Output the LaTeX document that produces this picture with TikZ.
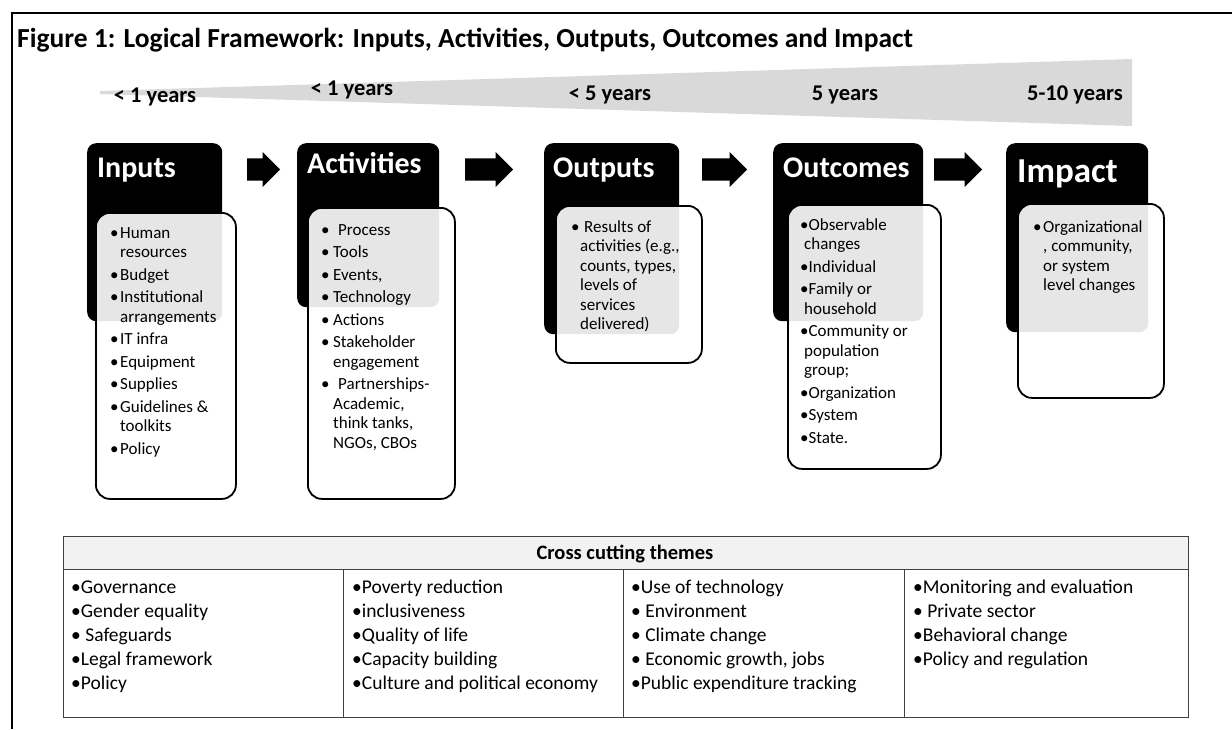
\documentclass[tikz,border=0pt]{standalone}
\usepackage{fontspec}
\setmainfont{Carlito}
\usetikzlibrary{shapes.arrows}

\newcommand{\bul}[1][10pt]{\makebox[#1][l]{\textbullet}}
\newcommand{\ind}[1][10pt]{\hspace*{#1}}
\newcommand{\blist}[1]{\begin{tabular}[t]{@{}l@{}}#1\end{tabular}}

\tikzset{
  head/.style={fill=black, rounded corners=9pt, anchor=north west, inner sep=0pt},
  body/.style={draw=black, line width=1.8pt, fill=white, fill opacity=0.9, rounded corners=14pt, anchor=north west, inner sep=0pt},
  headtxt/.style={text=white, font=\bfseries\fontsize{30}{36}\selectfont, anchor=base west, inner sep=0pt},
  itemtxt/.style={font=\fontsize{17}{19.5}\selectfont, anchor=base west, inner sep=0pt},
  celltxt/.style={font=\fontsize{19.5}{24}\selectfont, anchor=base west, inner sep=0pt},
  yrs/.style={font=\bfseries\fontsize{22.5}{27}\selectfont, anchor=base, inner sep=0pt},
  blk/.style={single arrow, fill=black, single arrow head extend=6.5pt, single arrow tip angle=90, inner xsep=0pt, inner ysep=11pt, minimum width=0pt, anchor=tail}
}

\begin{document}
\begin{tikzpicture}[x=1pt,y=-1pt]
\useasboundingbox (0,0) rectangle (1232,729);
% frame and title
\draw[line width=2pt] (12,729) -- (12,13) -- (1232,13);
\node[anchor=base west, inner sep=0pt, font=\bfseries\fontsize{27.5}{33}\selectfont] (fig) at (17,47) {Figure 1: Logical Framework: Inputs, Activities, Outputs, Outcomes and Impact};

% time wedge
\fill[gray!30] (100,91) -- (1132,59) -- (1132,126) -- (100,94) -- cycle;
\node[yrs] (yr1) at (155,102) {< 1 years};
\node[yrs] (yr2) at (352,95) {< 1 years};
\node[yrs] (yr3) at (610,100) {< 5 years};
\node[yrs] (yr4) at (845,100) {5 years};
\node[yrs] (yr5) at (1075,100) {5-10 years};

% black heads
\node[head, minimum width=135pt, minimum height=178pt] (inhead) at (87,143) {};
\node[head, minimum width=142pt, minimum height=164pt] (acthead) at (297,143) {};
\node[head, minimum width=135pt, minimum height=191pt] (outhead) at (544,143) {};
\node[head, minimum width=150pt, minimum height=178pt] (ochead) at (773,143) {};
\node[head, minimum width=142pt, minimum height=189pt] (imphead) at (1006,143) {};

% white bodies
\node[body, minimum width=140pt, minimum height=286pt] (inbody) at (95,212) {};
\node[body, minimum width=147pt, minimum height=291pt] (actbody) at (307,207) {};
\node[body, minimum width=146pt, minimum height=157pt] (outbody) at (555,205) {};
\node[body, minimum width=153pt, minimum height=264pt] (ocbody) at (787,204) {};
\node[body, minimum width=146pt, minimum height=194pt] (impbody) at (1017,203) {};

% titles
\node[headtxt] (intitle) at (97,177) {Inputs};
\node[headtxt] (acttitle) at (307,173) {Activities};
\node[headtxt] (outtitle) at (553,177) {Outputs};
\node[headtxt] (octitle) at (783,177) {Outcomes};
\node[headtxt, font=\bfseries\fontsize{35}{42}\selectfont] (imptitle) at (1017,182) {Impact};

% arrows
\node[blk, minimum height=33pt] (arr1) at (247,169.5) {};
\node[blk, minimum height=48pt] (arr2) at (465,169.5) {};
\node[blk, minimum height=45pt] (arr3) at (702,169.5) {};
\node[blk, minimum height=48pt] (arr4) at (934,169.5) {};

% lists
\node[itemtxt] (inlist) at (110,238) {\blist{\bul Human\\ \ind resources\\[3pt]
  \bul Budget\\[3pt] \bul Institutional\\ \ind arrangements\\[3pt]
  \bul IT infra\\[3pt] \bul Equipment\\[3pt] \bul Supplies\\[3pt]
  \bul Guidelines \&\\ \ind toolkits\\[3pt] \bul Policy}};
\node[itemtxt] (actlist) at (321,235) {\blist{\bul[17pt]Process\\[3pt] \bul[12pt]Tools\\[3pt]
  \bul[12pt]Events,\\[3pt] \bul[12pt]Technology\\[3pt] \bul[12pt]Actions\\[3pt]
  \bul[12pt]Stakeholder\\ \ind[12pt]engagement\\[3pt]
  \bul[17pt]Partnerships-\\ \ind[12pt]Academic,\\ \ind[12pt]think tanks,\\ \ind[12pt]NGOs, CBOs}};
\node[itemtxt] (outlist) at (571,232) {\blist{\bul[13pt]Results of\\ \ind[9pt]activities (e.g.,\\
  \ind[9pt]counts, types,\\ \ind[9pt]levels of\\ \ind[9pt]services\\ \ind[9pt]delivered)}};
\node[itemtxt] (oclist) at (800,230) {\blist{\textbullet Observable\\ \ind[4pt]changes\\[3pt]
  \textbullet Individual\\[3pt] \textbullet Family or\\ \ind[4pt]household\\[3pt]
  \textbullet Community or\\ \ind[4pt]population\\ \ind[4pt]group;\\[3pt]
  \textbullet Organization\\[3pt] \textbullet System\\[3pt] \textbullet State.}};
\node[itemtxt] (implist) at (1033,232) {\blist{\bul Organizational\\ \ind, community,\\
  \ind or system\\ \ind level changes}};

% cross cutting table
\fill[gray!10] (63,536) rectangle (1188,569);
\draw[black!75, line width=1pt] (63,536) rectangle (1188,717);
\draw[black!75] (63,569) -- (1188,569);
\foreach \x in {343,623,904} \draw[black!75] (\x,569) -- (\x,717);
\node[anchor=base, inner sep=0pt, font=\bfseries\fontsize{20.5}{25}\selectfont] (cct) at (625,559) {Cross cutting themes};
\node[celltxt] (col1) at (71,593) {\blist{\textbullet Governance\\ \textbullet Gender equality\\
  \textbullet{} Safeguards\\ \textbullet Legal framework\\ \textbullet Policy}};
\node[celltxt] (col2) at (352,593) {\blist{\textbullet Poverty reduction\\ \textbullet inclusiveness\\
  \textbullet Quality of life\\ \textbullet Capacity building\\ \textbullet Culture and political economy}};
\node[celltxt] (col3) at (631,593) {\blist{\textbullet Use of technology\\ \textbullet{} Environment\\
  \textbullet{} Climate change\\ \textbullet{} Economic growth, jobs\\ \textbullet Public expenditure tracking}};
\node[celltxt] (col4) at (913,593) {\blist{\textbullet Monitoring and evaluation\\ \textbullet{} Private sector\\
  \textbullet Behavioral change\\ \textbullet Policy and regulation}};
\end{tikzpicture}
\end{document}
